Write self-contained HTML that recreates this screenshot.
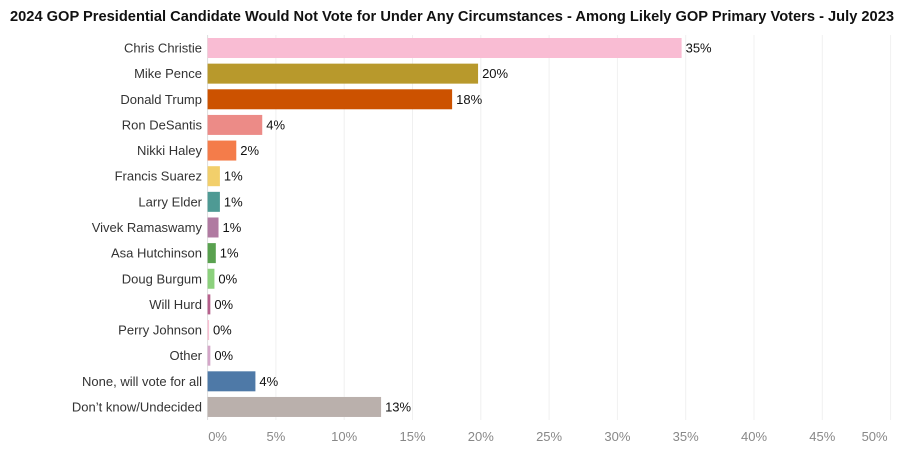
<!DOCTYPE html>
<html><head><meta charset="utf-8"><style>
body{margin:0;background:#fff;}
svg{display:block;font-family:"Liberation Sans",sans-serif;}
</style></head><body>
<svg id="chart" width="908" height="466" viewBox="0 0 908 466">
<text x="10" y="21" font-size="14.5" font-weight="bold" fill="#111" textLength="884" lengthAdjust="spacingAndGlyphs">2024 GOP Presidential Candidate Would Not Vote for Under Any Circumstances - Among Likely GOP Primary Voters - July 2023</text>
<g id="grid"></g><g id="bars"></g><g id="xaxis"></g>
</svg>
<script>
const categories=["Chris Christie","Mike Pence","Donald Trump","Ron DeSantis","Nikki Haley","Francis Suarez","Larry Elder","Vivek Ramaswamy","Asa Hutchinson","Doug Burgum","Will Hurd","Perry Johnson","Other","None, will vote for all","Don't know/Undecided"];
const values=[34.7,19.8,17.9,4.0,2.1,0.9,0.9,0.8,0.6,0.5,0.2,0.1,0.2,3.5,12.7];
const valueLabels=["35%","20%","18%","4%","2%","1%","1%","1%","1%","0%","0%","0%","0%","4%","13%"];
const colors=["#f9bcd3","#b8992c","#cc5200","#ec8b87","#f47c4a","#f2cf6b","#4e9a94","#b07aa1","#59a14f","#8cd17d","#b6608c","#fabfd2","#d4a6c8","#4e79a7","#bab0ac"];
const ticks=[0,5,10,15,20,25,30,35,40,45,50];
const tickLabels=["0%","5%","10%","15%","20%","25%","30%","35%","40%","45%","50%"];
const NS="http://www.w3.org/2000/svg";
const x=v=>207.6+v*13.66;
const y=i=>48+i*25.64;
function mk(t,a,p){const e=document.createElementNS(NS,t);for(const k in a)e.setAttribute(k,a[k]);p.appendChild(e);return e;}
const grid=document.getElementById('grid'),bars=document.getElementById('bars'),xa=document.getElementById('xaxis');
ticks.forEach((t,i)=>{
 const l=mk('line',{x1:x(t),x2:x(t),y1:35,y2:420,stroke:i==0?'#ddd':'#f0f0f0','stroke-width':1},grid);
 
 
 let tx=x(t); if(i==0)tx+=10; if(i==ticks.length-1)tx-=16;
 const tl=mk('text',{x:tx,y:441,'font-size':13,fill:'#888','text-anchor':'middle'},xa);
 tl.textContent=tickLabels[i];
 
 
});
categories.forEach((c,i)=>{
 const cy=y(i);
 const lab=mk('text',{x:202,y:cy+4.5,'font-size':13,fill:'#333','text-anchor':'end'},bars);
 lab.textContent=c.replace("'","\u2019");
 
 
 const r=mk('rect',{x:x(0),y:cy-10,width:Math.max(x(values[i])-x(0),1.5),height:20,fill:colors[i]},bars);
 
 
 const vl=mk('text',{x:x(values[i])+4,y:cy+4.5,'font-size':13,fill:'#111'},bars);
 vl.textContent=valueLabels[i];
 
 
});
</script>
</body></html>
